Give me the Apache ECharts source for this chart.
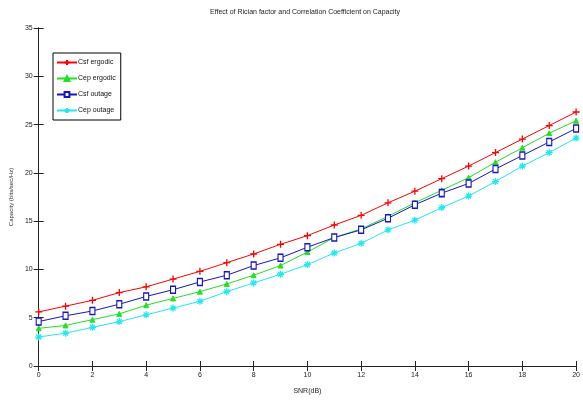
<!DOCTYPE html>
<html><head><meta charset="utf-8">
<script src="https://cdn.jsdelivr.net/npm/echarts@6/dist/echarts.min.js"></script>
<style>html,body{margin:0;padding:0;background:#fff}#c{width:583px;height:405px}</style>
</head><body><div id="c"></div>
<script>
const snr = [0,1,2,3,4,5,6,7,8,9,10,11,12,13,14,15,16,17,18,19,20];
const csfErgodic = [5.6,6.2,6.8,7.6,8.2,9.0,9.8,10.7,11.6,12.6,13.5,14.6,15.6,16.9,18.1,19.4,20.7,22.1,23.5,24.9,26.3];
const cepErgodic = [3.9,4.2,4.8,5.4,6.3,7.0,7.7,8.5,9.4,10.4,11.8,13.3,14.2,15.5,16.9,18.2,19.5,21.1,22.6,24.1,25.4];
const csfOutage  = [4.6,5.2,5.7,6.4,7.2,7.9,8.7,9.4,10.4,11.2,12.3,13.3,14.1,15.3,16.7,17.9,18.9,20.4,21.8,23.2,24.6];
const cepOutage  = [3.0,3.4,4.0,4.6,5.3,6.0,6.7,7.7,8.6,9.5,10.5,11.7,12.7,14.1,15.1,16.4,17.6,19.1,20.7,22.1,23.6];
const names = ['Csf ergodic','Cep ergodic','Csf outage','Cep outage'];

const plus = 'path://M0,5L10,5M5,0L5,10';
const star = 'path://M0,5L10,5M5,0L5,10M1.5,1.5L8.5,8.5M8.5,1.5L1.5,8.5';
const font = '"Liberation Sans Narrow", "Liberation Sans", Arial, sans-serif';
function mk(vals){ return vals.map((v,i)=>[snr[i], v]); }
const chart = echarts.init(document.getElementById('c'));
const axisLine = {show:true, lineStyle:{color:'#222', width:1}};
chart.setOption({
  animation:false,
  backgroundColor:'#fff',
  title:{text:'Effect of Rician factor and Correlation Coefficient on Capacity', left:300, top:4, textAlign:'center',
    textStyle:{fontSize:7, fontWeight:'normal', color:'#222', fontFamily:font}},
  grid:{left:32, right:6, top:28, bottom:39},
  legend:{left:53, top:53, orient:'vertical', itemWidth:20, itemHeight:6, itemGap:9,
    backgroundColor:'#fff', borderColor:'#000', borderWidth:1, padding:[6,5,6,3],
    textStyle:{fontSize:7, color:'#111', fontFamily:font, padding:[0,0,0,-4]}, data:names},
  xAxis:[{type:'value', min:0, max:20, interval:2, name:'SNR(dB)', nameLocation:'middle', nameGap:22,
    nameTextStyle:{fontSize:7, color:'#222', fontFamily:font},
    axisLine:axisLine, axisTick:{inside:true, length:5, lineStyle:{color:'#222'}},
    axisLabel:{fontSize:7, color:'#222', margin:6, fontFamily:font}, splitLine:{show:false}},
   {type:'value', position:'top', min:0, max:20, interval:2, axisLine:axisLine,
    axisTick:{inside:true, length:5, lineStyle:{color:'#222'}}, axisLabel:{show:false}, splitLine:{show:false}}],
  yAxis:[{type:'value', min:0, max:35, interval:5, name:'Capacity (bits/sec/Hz)', nameLocation:'middle', nameGap:16,
    nameTextStyle:{fontSize:6, color:'#333', fontFamily:font},
    axisLine:axisLine, axisTick:{inside:true, length:5, lineStyle:{color:'#222'}},
    axisLabel:{fontSize:7, color:'#222', margin:6, fontFamily:font}, splitLine:{show:false}},
   {type:'value', position:'right', min:0, max:35, interval:5, axisLine:axisLine,
    axisTick:{inside:true, length:5, lineStyle:{color:'#222'}}, axisLabel:{show:false}, splitLine:{show:false}}],
  series:[
    {name:names[0], type:'line', data:mk(csfErgodic), symbol:plus, symbolSize:7, showAllSymbol:true,
      lineStyle:{color:'#f00', width:1}, itemStyle:{color:'#f00', borderColor:'#f00', borderWidth:1.3}},
    {name:names[1], type:'line', data:mk(cepErgodic), symbol:'triangle', symbolSize:5, showAllSymbol:true,
      lineStyle:{color:'#22e022', width:1}, itemStyle:{color:'#22e022', borderColor:'#22e022', borderWidth:1}},
    {name:names[2], type:'line', data:mk(csfOutage), symbol:'rect', symbolSize:[5,7], showAllSymbol:true,
      lineStyle:{color:'#1414c8', width:1}, itemStyle:{color:'#fff', borderColor:'#1414c8', borderWidth:1.3}},
    {name:names[3], type:'line', data:mk(cepOutage), symbol:star, symbolSize:7, showAllSymbol:true,
      lineStyle:{color:'#22e8f0', width:1}, itemStyle:{color:'#22e8f0', borderColor:'#22e8f0', borderWidth:1.3}}
  ]
});
</script></body></html>
